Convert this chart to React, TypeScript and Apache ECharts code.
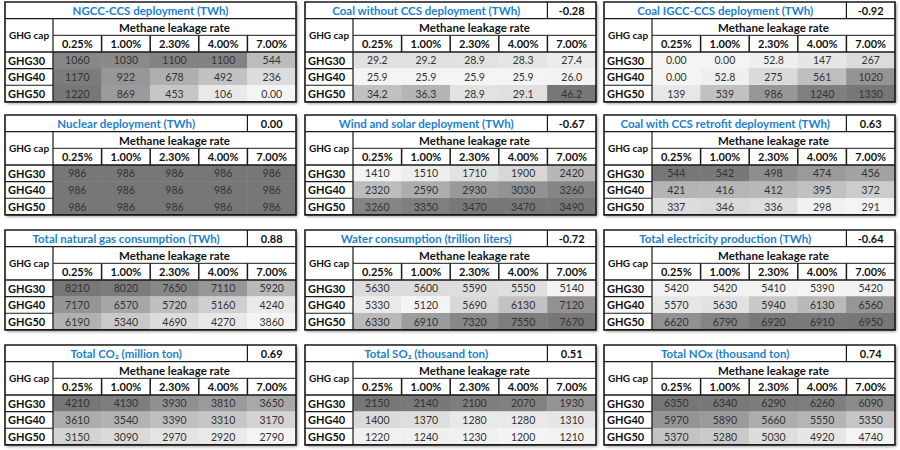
import React, { useEffect, useRef } from 'react';
import * as echarts from 'echarts';

const leakageRates = ['0.25%', '1.00%', '2.30%', '4.00%', '7.00%'];
const ghgCaps = ['GHG30', 'GHG40', 'GHG50'];
const columnGroupLabel = 'Methane leakage rate';
const rowGroupLabel = 'GHG cap';

const titles = [
  'NGCC-CCS deployment (TWh)',
  'Coal without CCS deployment (TWh)',
  'Coal IGCC-CCS deployment (TWh)',
  'Nuclear deployment (TWh)',
  'Wind and solar deployment (TWh)',
  'Coal with CCS retrofit deployment (TWh)',
  'Total natural gas consumption (TWh)',
  'Water consumption (trillion liters)',
  'Total electricity production (TWh)',
  'Total CO₂ (million ton)',
  'Total SO₂ (thousand ton)',
  'Total NOx (thousand ton)',
];
const correlations: (number | null)[] = [null, -0.28, -0.92, 0.0, -0.67, 0.63, 0.88, -0.72, -0.64, 0.69, 0.51, 0.74];

const ngccCcs = [[1060, 1030, 1100, 1100, 544], [1170, 922, 678, 492, 236], [1220, 869, 453, 106, 0]];
const coalNoCcs = [[29.2, 29.2, 28.9, 28.3, 27.4], [25.9, 25.9, 25.9, 25.9, 26.0], [34.2, 36.3, 28.9, 29.1, 46.2]];
const coalIgccCcs = [[0, 0, 52.8, 147, 267], [0, 52.8, 275, 561, 1020], [139, 539, 986, 1240, 1330]];
const nuclear = [[986, 986, 986, 986, 986], [986, 986, 986, 986, 986], [986, 986, 986, 986, 986]];
const windSolar = [[1410, 1510, 1710, 1900, 2420], [2320, 2590, 2930, 3030, 3260], [3260, 3350, 3470, 3470, 3490]];
const coalRetrofit = [[544, 542, 498, 474, 456], [421, 416, 412, 395, 372], [337, 346, 336, 298, 291]];
const naturalGas = [[8210, 8020, 7650, 7110, 5920], [7170, 6570, 5720, 5160, 4240], [6190, 5340, 4690, 4270, 3860]];
const water = [[5630, 5600, 5590, 5550, 5140], [5330, 5120, 5690, 6130, 7120], [6330, 6910, 7320, 7550, 7670]];
const electricity = [[5420, 5420, 5410, 5390, 5420], [5570, 5630, 5940, 6130, 6560], [6620, 6790, 6920, 6910, 6950]];
const co2 = [[4210, 4130, 3930, 3810, 3650], [3610, 3540, 3390, 3310, 3170], [3150, 3090, 2970, 2920, 2790]];
const so2 = [[2150, 2140, 2100, 2070, 1930], [1400, 1370, 1280, 1280, 1310], [1220, 1240, 1230, 1200, 1210]];
const nox = [[6350, 6340, 6290, 6260, 6090], [5970, 5890, 5660, 5550, 5350], [5370, 5280, 5030, 4920, 4740]];

const tables = [ngccCcs, coalNoCcs, coalIgccCcs, nuclear, windSolar, coalRetrofit, naturalGas, water, electricity, co2, so2, nox];

const FONT = 'Lato, "Open Sans", sans-serif';

function fmt(v: number): string {
  if (v === 0) return '0.00';
  const a = Math.abs(v);
  if (a >= 100) return String(Math.round(v));
  if (a >= 10) return v.toFixed(1);
  return v.toFixed(2);
}

export default function App() {
  const ref = useRef<HTMLDivElement>(null);
  useEffect(() => {
    if (!ref.current) return;
    const chart = echarts.init(ref.current, undefined, { renderer: 'svg' });

    const panelX = [5, 305, 604];
    const panelY = [2, 115, 230, 345];
    const W = 291;
    const labelW = 48;
    const colW = (W - labelW) / 5;
    const rowH = 16.65;
    const H = rowH * 6;
    const lineColor = '#1a1a1a';

    const grids: any[] = [];
    const xAxes: any[] = [];
    const yAxes: any[] = [];
    const series: any[] = [];
    const visualMaps: any[] = [];
    const graphics: any[] = [];

    tables.forEach((tbl, i) => {
      const x0 = panelX[i % 3];
      const y0 = panelY[Math.floor(i / 3)];
      grids.push({ left: x0 + labelW, top: y0 + 3 * rowH, width: 5 * colW, height: 3 * rowH });
      xAxes.push({
        type: 'category', gridIndex: i, data: leakageRates, position: 'top',
        axisLine: { show: false }, axisTick: { show: false }, splitLine: { show: false },
        axisLabel: { interval: 0, fontFamily: FONT, fontWeight: 'bold', fontSize: 11, color: '#111', margin: rowH / 2, verticalAlign: 'middle' },
      });
      yAxes.push({
        type: 'category', gridIndex: i, data: ghgCaps, inverse: true,
        axisLine: { show: false }, axisTick: { show: false }, splitLine: { show: false },
        axisLabel: { interval: 0, fontFamily: FONT, fontWeight: 'bold', fontSize: 11, color: '#111', margin: labelW - 3, align: 'left' },
      });
      const data: number[][] = [];
      tbl.forEach((row, r) => row.forEach((v, c) => data.push([c, r, v])));
      series.push({
        type: 'heatmap', xAxisIndex: i, yAxisIndex: i, data,
        label: { show: true, fontFamily: FONT, fontSize: 10.5, color: '#333333', formatter: (p: any) => fmt(p.value[2]) },
        emphasis: { disabled: true },
      });
      const flat = tbl.flat();
      let mn = Math.min(...flat);
      const mx = Math.max(...flat);
      if (mn === mx) mn = mx - 1;
      visualMaps.push({
        type: 'continuous', show: false, seriesIndex: i, dimension: 2, min: mn, max: mx,
        inRange: { color: ['#f4f4f4', '#777777'] },
      });

      const line = (x1: number, y1: number, x2: number, y2: number, lw = 1.2) => ({
        type: 'line', z: 50, silent: true, shape: { x1, y1, x2, y2 }, style: { stroke: lineColor, lineWidth: lw },
      });
      graphics.push({
        type: 'rect', z: 0, silent: true, shape: { x: x0, y: y0, width: W, height: H },
        style: { fill: '#fff', shadowBlur: 3, shadowColor: 'rgba(0,0,0,0.45)', shadowOffsetX: 1.5, shadowOffsetY: 1.5 },
      });
      graphics.push({
        type: 'rect', z: 51, silent: true, shape: { x: x0, y: y0, width: W, height: H },
        style: { fill: 'transparent', stroke: lineColor, lineWidth: 1.6 },
      });
      graphics.push(line(x0, y0 + rowH, x0 + W, y0 + rowH));
      const corr = correlations[i];
      const corrX = x0 + labelW + 4 * colW;
      if (corr !== null) graphics.push(line(corrX, y0, corrX, y0 + rowH));
      graphics.push(line(x0 + labelW, y0 + rowH, x0 + labelW, y0 + H));
      graphics.push(line(x0 + labelW, y0 + 2 * rowH, x0 + W, y0 + 2 * rowH, 1));
      graphics.push(line(x0, y0 + 3 * rowH, x0 + W, y0 + 3 * rowH, 1.5));
      for (let k = 1; k <= 4; k++) {
        const xx = x0 + labelW + k * colW;
        graphics.push(line(xx, y0 + 2 * rowH, xx, y0 + 3 * rowH, 1.5));
      }
      for (let k = 1; k <= 2; k++) {
        const yy = y0 + (3 + k) * rowH;
        graphics.push(line(x0, yy, x0 + labelW, yy, 1.2));
      }
      const titleRight = corr !== null ? corrX : x0 + W;
      graphics.push({
        type: 'text', z: 60, silent: true,
        style: {
          text: titles[i], x: (x0 + titleRight) / 2, y: y0 + rowH / 2 + 0.5, textAlign: 'center', textVerticalAlign: 'middle',
          fill: '#1c7fd2', fontFamily: FONT, fontWeight: 'bold', fontSize: 11.5,
        },
      });
      if (corr !== null) {
        graphics.push({
          type: 'text', z: 60, silent: true,
          style: {
            text: corr.toFixed(2), x: corrX + colW / 2, y: y0 + rowH / 2 + 0.5, textAlign: 'center', textVerticalAlign: 'middle',
            fill: '#111', fontFamily: FONT, fontWeight: 'bold', fontSize: 11,
          },
        });
      }
      graphics.push({
        type: 'text', z: 60, silent: true,
        style: {
          text: columnGroupLabel, x: x0 + labelW + 2.5 * colW, y: y0 + 1.5 * rowH + 0.5, textAlign: 'center', textVerticalAlign: 'middle',
          fill: '#111', fontFamily: FONT, fontWeight: 'bold', fontSize: 11.5,
        },
      });
      graphics.push({
        type: 'text', z: 60, silent: true,
        style: {
          text: rowGroupLabel, x: x0 + labelW / 2, y: y0 + 2 * rowH, textAlign: 'center', textVerticalAlign: 'middle',
          fill: '#111', fontFamily: FONT, fontWeight: 'bold', fontSize: 10,
        },
      });
    });

    chart.setOption({
      animation: false,
      backgroundColor: '#ffffff',
      grid: grids,
      xAxis: xAxes,
      yAxis: yAxes,
      visualMap: visualMaps,
      series,
      graphic: { elements: graphics },
    });
    return () => chart.dispose();
  }, []);
  return <div ref={ref} style={{ position: 'fixed', left: 0, top: 0, width: 900, height: 450 }} />;
}
